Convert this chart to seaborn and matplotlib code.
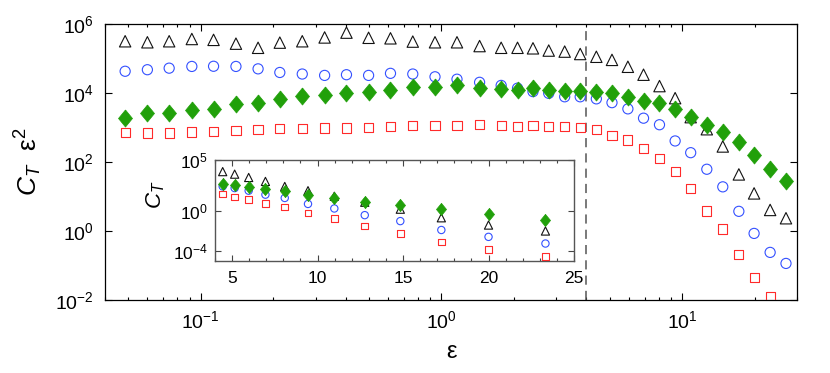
import numpy as np
import pandas as pd
import matplotlib
matplotlib.use("Agg")
import matplotlib.pyplot as plt
from matplotlib.ticker import LogLocator, LogFormatterSciNotation, MultipleLocator, NullLocator, FixedLocator
import seaborn as sns

# values (y values kept as log10 exponents)
eps = [0.0485, 0.060, 0.0739, 0.0918, 0.113, 0.14, 0.173, 0.213, 0.264, 0.327,
       0.403, 0.498, 0.614, 0.76, 0.94, 1.16, 1.44, 1.77, 2.07, 2.40,
       2.79, 3.25, 3.77, 4.40, 5.11, 5.95, 6.91, 8.05, 9.35, 10.85,
       12.66, 14.75, 17.2, 19.9, 23.2, 27.0]

tri_log = [5.50, 5.47, 5.50, 5.565, 5.54, 5.43, 5.31, 5.46, 5.50, 5.61,
           5.75, 5.60, 5.585, 5.49, 5.47, 5.47, 5.36, 5.31, 5.31, 5.295,
           5.23, 5.20, 5.13, 5.05, 4.96, 4.76, 4.53, 4.20, 3.85, 3.30,
           2.95, 2.45, 1.64, 1.09, 0.61, 0.37]
circ_log = [4.63, 4.675, 4.72, 4.77, 4.775, 4.77, 4.70, 4.595, 4.55, 4.51,
            4.53, 4.51, 4.57, 4.55, 4.47, 4.40, 4.31, 4.22, 4.14, 4.04,
            3.99, 3.89, 3.89, 3.83, 3.72, 3.54, 3.27, 3.08, 2.61, 2.27,
            1.79, 1.28, 0.57, -0.07, -0.62, -0.94]
diam_log = [3.27, 3.42, 3.43, 3.51, 3.535, 3.68, 3.72, 3.82, 3.91, 3.95,
            4.00, 4.015, 4.09, 4.165, 4.165, 4.23, 4.15, 4.11, 4.08, 4.145,
            4.075, 4.055, 4.055, 4.025, 4.01, 3.89, 3.77, 3.71, 3.53, 3.30,
            3.07, 2.88, 2.58, 2.20, 1.80, 1.46]
sq_log = [2.85, 2.84, 2.84, 2.87, 2.89, 2.905, 2.93, 2.96, 2.98, 2.985,
          2.985, 3.005, 3.03, 3.055, 3.07, 3.07, 3.09, 3.07, 3.04, 3.05,
          3.04, 3.02, 3.00, 2.93, 2.78, 2.64, 2.39, 2.11, 1.72, 1.22,
          0.58, 0.06, -0.68, -1.34, -1.90, -2.6]

# inset: C_T for eps > 4
ins_eps = [4.45, 5.15, 5.97, 6.95, 8.08, 9.44, 10.98, 12.76, 14.84, 17.24, 20.0, 23.33]
ins_tri_log = [3.85, 3.60, 3.27, 2.88, 2.38, 1.96, 1.41, 0.82, 0.13, -0.72, -1.44, -2.03]
ins_circ_log = [2.39, 2.22, 1.96, 1.57, 1.24, 0.65, 0.20, -0.46, -1.05, -1.93, -2.61, -3.27]
ins_diam_log = [2.65, 2.48, 2.32, 2.12, 1.90, 1.57, 1.24, 0.85, 0.52, 0.16, -0.39, -0.95]
ins_sq_log = [1.63, 1.34, 1.08, 0.69, 0.33, -0.23, -0.82, -1.54, -2.25, -3.10, -3.89, -4.54]

sns.set_style("white")
plt.rcParams['font.family'] = ['Liberation Sans', 'DejaVu Sans']
plt.rcParams['mathtext.fontset'] = 'custom'
plt.rcParams['mathtext.rm'] = 'Liberation Sans'
plt.rcParams['mathtext.it'] = 'Liberation Sans:italic'
plt.rcParams['text.color'] = 'black'
plt.rcParams['axes.labelcolor'] = 'black'
plt.rcParams['xtick.color'] = 'black'
plt.rcParams['ytick.color'] = 'black'

diamond = [(0, 1), (0.82, 0), (0, -1), (-0.82, 0), (0, 1)]

black = '#111111'
blue = '#3350ff'
red = '#ff2a2a'
green = '#21a00a'


def draw(ax, x, logs, big):
    df = pd.DataFrame({'x': x})
    for key, vals in logs.items():
        df[key] = 10 ** np.array(vals)
    f = 1.0 if big else 0.72
    sns.scatterplot(data=df, x='x', y='tri', marker='^', s=(8.2 * f) ** 2,
                    facecolor='none', edgecolor=black, linewidth=0.8, ax=ax, zorder=3)
    sns.scatterplot(data=df, x='x', y='circ', marker='o', s=(7.3 * f) ** 2,
                    facecolor='none', edgecolor=blue, linewidth=0.8, ax=ax, zorder=3)
    sns.scatterplot(data=df, x='x', y='sq', marker='s', s=(6.6 * f) ** 2,
                    facecolor='none', edgecolor=red, linewidth=0.8, ax=ax, zorder=3)
    sns.scatterplot(data=df, x='x', y='diam', marker=diamond, s=(12.3 * f) ** 2,
                    color=green, edgecolor=green, linewidth=0.5, ax=ax, zorder=4)


fig = plt.figure(figsize=(8.3, 3.73), dpi=100)

# main axes
ax = fig.add_axes([105 / 830, 1 - 300 / 373, 692 / 830, 276 / 373])
draw(ax, eps, {'tri': tri_log, 'circ': circ_log, 'sq': sq_log, 'diam': diam_log}, True)
ax.axvline(4, color='#555555', lw=1.1, ls=(0, (6, 4)), zorder=2)
ax.set_xscale('log')
ax.set_yscale('log')
ax.set_xlim(0.04, 30)
ax.set_ylim(1e-2, 1e6)
ax.yaxis.set_major_locator(FixedLocator([1e-2, 1e0, 1e2, 1e4, 1e6]))
ax.yaxis.set_minor_locator(NullLocator())
ax.xaxis.set_major_locator(LogLocator(base=10))
ax.xaxis.set_minor_locator(LogLocator(base=10, subs=np.arange(2, 10)))
ax.xaxis.set_major_formatter(LogFormatterSciNotation())
ax.tick_params(which='both', direction='in', bottom=True, left=True, top=True, right=True,
               color='k', width=0.8)
ax.tick_params(which='major', length=5, labelsize=14, pad=7)
ax.tick_params(axis='y', pad=8)
ax.tick_params(which='minor', length=2.5)
for sp in ax.spines.values():
    sp.set_color('k')
    sp.set_linewidth(0.9)
ax.set_xlabel('ε', fontsize=17, labelpad=7)
ax.set_ylabel(r'$C_T\ \ \mathrm{\varepsilon}^2$', fontsize=19)
ax.yaxis.set_label_coords(-0.088, 0.5)

# inset
ins = fig.add_axes([215 / 830, 1 - 261 / 373, 359 / 830, 101 / 373], zorder=5)
ins.set_facecolor('white')
draw(ins, ins_eps, {'tri': ins_tri_log, 'circ': ins_circ_log, 'sq': ins_sq_log,
                    'diam': ins_diam_log}, False)
ins.set_yscale('log')
ins.set_xlim(4, 25)
ins.set_ylim(1e-5, 1e5)
ins.xaxis.set_major_locator(MultipleLocator(5))
ins.xaxis.set_minor_locator(MultipleLocator(1))
ins.yaxis.set_major_locator(FixedLocator([1e-4, 1e0, 1e5]))
ins.yaxis.set_minor_locator(NullLocator())
ins.yaxis.set_major_formatter(LogFormatterSciNotation())
ins.tick_params(which='both', direction='in', bottom=True, left=True, top=True, right=True,
                color='#444444', width=0.8)
ins.tick_params(which='major', length=4, labelsize=12.5, pad=5)
ins.tick_params(axis='x', pad=7)
ins.tick_params(which='minor', length=2)
for sp in ins.spines.values():
    sp.set_color('#555555')
    sp.set_linewidth(1.0)
ins.set_xlabel('')
ins.set_ylabel(r'$C_T$', fontsize=16)
ins.yaxis.set_label_coords(-0.135, 0.66)

fig.savefig('out.png', dpi=100)
